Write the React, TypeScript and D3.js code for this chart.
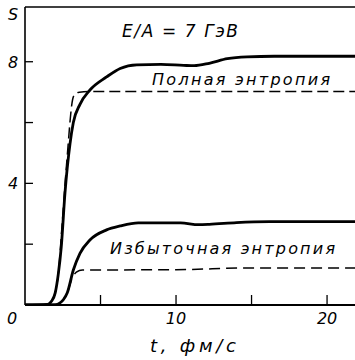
import React from 'react';
import * as d3 from 'd3';

// time (фм/с) and entropy per baryon
const totalSolidT = [0, 1.5, 1.75, 2.0, 2.2, 2.4, 2.65, 2.98, 3.2, 3.64, 4.3, 5.4, 6.3, 7.4, 9.0, 10.5, 11.2, 12.2, 13.4, 14.7, 16.5, 22];
const totalSolidS = [0, 0.02, 0.12, 0.4, 1.0, 1.9, 3.7, 5.3, 6.0, 6.6, 7.07, 7.5, 7.78, 7.9, 7.91, 7.88, 7.87, 7.95, 8.1, 8.16, 8.18, 8.18];

const totalDashT = [0, 1.5, 1.75, 2.0, 2.2, 2.45, 2.78, 3.15, 3.3, 3.6, 4.3, 22];
const totalDashS = [0, 0.02, 0.12, 0.4, 1.0, 2.6, 4.8, 6.75, 6.93, 7.0, 7.02, 7.02];

const excessSolidT = [0, 2.0, 2.3, 2.55, 2.8, 3.2, 3.64, 4.3, 5.4, 6.3, 7.5, 10.3, 11.5, 12.2, 14.0, 16.2, 22];
const excessSolidS = [0, 0.01, 0.06, 0.18, 0.4, 1.15, 1.7, 2.14, 2.47, 2.6, 2.7, 2.7, 2.64, 2.65, 2.71, 2.74, 2.74];

const excessDashT = [0, 2.0, 2.3, 2.55, 2.8, 3.1, 3.4, 3.8, 10, 15, 22];
const excessDashS = [0, 0.01, 0.06, 0.18, 0.4, 0.85, 1.08, 1.15, 1.16, 1.22, 1.22];

const xTicks = [5, 10, 15, 20];
const xTickLabels = [0, 10, 20];
const yTicks = [2, 4, 6, 8];
const yTickLabels = [4, 8];

const W = 355;
const H = 360;
const font = '"DejaVu Sans", sans-serif';

export default function App() {
  const x = d3.scaleLinear().domain([0, 21.85]).range([25, 355]);
  const y = d3.scaleLinear().domain([0, 9.8]).range([305, 7]);

  const line = (ts: number[], ss: number[]) =>
    d3.line<number>()
      .x((d) => x(d))
      .y((_, i) => y(ss[i]))
      .curve(d3.curveMonotoneX)(ts) || '';

  return (
    <svg width={W} height={H} style={{ position: 'absolute', left: 0, top: 0, background: '#fff' }}>
      <defs>
        <clipPath id="plot">
          <rect x={x(0)} y={y(9.8)} width={W - x(0)} height={y(0) - y(9.8)} />
        </clipPath>
      </defs>

      {/* frame */}
      <g stroke="#000" fill="none">
        <line x1={x(0)} x2={W} y1={y(0)} y2={y(0)} strokeWidth={2} />
        <line x1={x(0)} x2={x(0)} y1={y(0)} y2={y(9.8)} strokeWidth={1.6} />
        <line x1={x(0)} x2={W} y1={y(9.8)} y2={y(9.8)} strokeWidth={1.4} />
        {xTicks.map((t) => (
          <line key={t} x1={x(t)} x2={x(t)} y1={y(0)} y2={y(0) - 10} strokeWidth={1.3} />
        ))}
        {yTicks.map((s) => (
          <line key={s} x1={x(0)} x2={x(0) + 8} y1={y(s)} y2={y(s)} strokeWidth={1.3} />
        ))}
      </g>

      {/* curves */}
      <g clipPath="url(#plot)" fill="none" stroke="#000">
        <path d={line(totalDashT, totalDashS)} strokeWidth={1.5} strokeDasharray="11 5" />
        <path d={line(excessDashT, excessDashS)} strokeWidth={1.5} strokeDasharray="11 6" />
        <path d={line(totalSolidT, totalSolidS)} strokeWidth={2.8} />
        <path d={line(excessSolidT, excessSolidS)} strokeWidth={2.8} />
      </g>

      {/* tick labels */}
      <g fontFamily={font} fontStyle="italic" fontSize={16} fill="#000">
        {xTickLabels.map((t) => (
          <text key={t} x={t === 0 ? 12 : x(t)} y={324} textAnchor="middle">{t}</text>
        ))}
        {yTickLabels.map((s) => (
          <text key={s} x={13} y={y(s) + 6} textAnchor="middle">{s}</text>
        ))}
        <text x={13} y={20} textAnchor="middle">S</text>
      </g>

      {/* annotations */}
      <g fontFamily={font} fontStyle="italic" fill="#000">
        <text x={122} y={37} fontSize={17} textLength={116} lengthAdjust="spacing">E/A = 7 ГэВ</text>
        <text x={152} y={85} fontSize={16} textLength={178} lengthAdjust="spacing">Полная энтропия</text>
        <text x={110} y={254} fontSize={16} textLength={225} lengthAdjust="spacing">Избыточная энтропия</text>
        <text x={150} y={352} fontSize={18} textLength={86} lengthAdjust="spacing">t, фм/с</text>
      </g>
    </svg>
  );
}
